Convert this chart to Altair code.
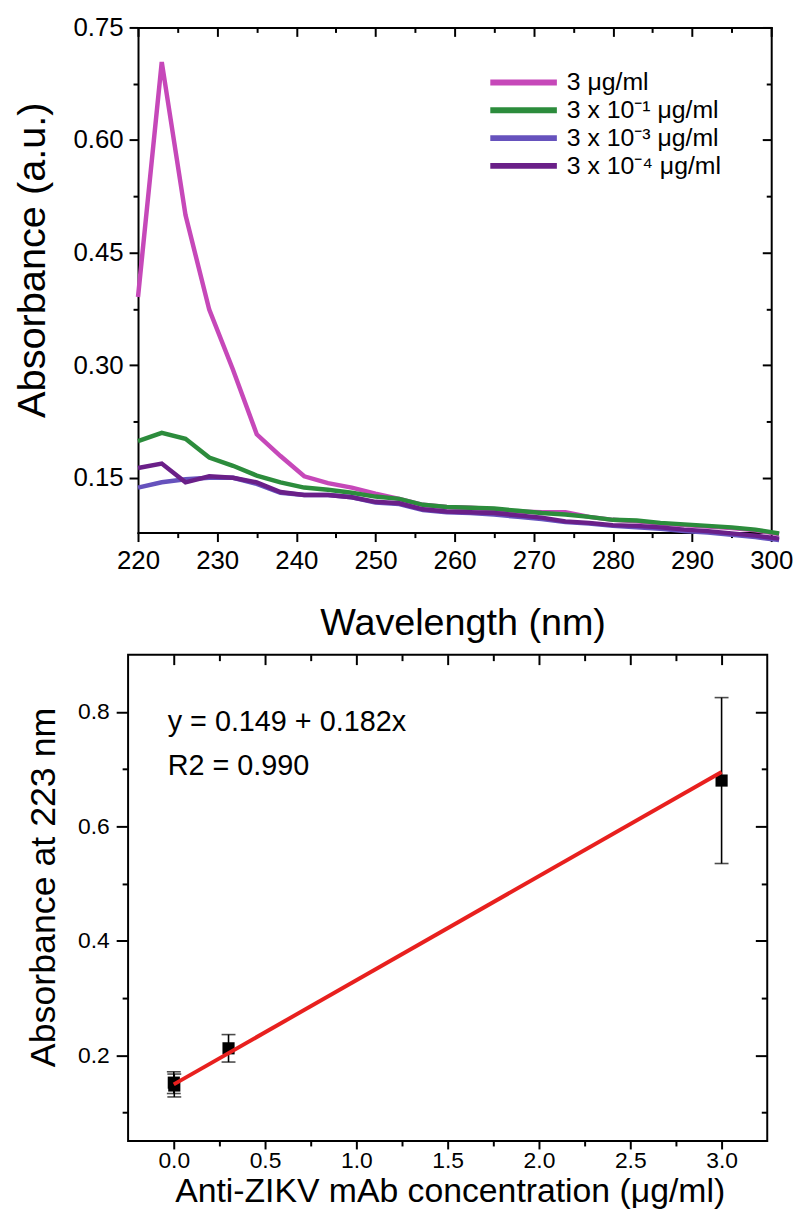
import altair as alt
import pandas as pd

FONT = "Liberation Sans"

# ---------------- top panel data (UV spectra) ----------------
wavelength = [220, 223, 226, 229, 232, 235, 238, 241, 244, 247, 250, 253, 256, 259,
              262, 265, 268, 271, 274, 277, 280, 283, 286, 289, 292, 295, 298, 301]
abs_3 = [0.391, 0.704, 0.500, 0.374, 0.294, 0.208, 0.179, 0.152, 0.143, 0.137, 0.129, 0.122, 0.114, 0.111,
         0.110, 0.108, 0.105, 0.104, 0.104, 0.098, 0.094, 0.092, 0.089, 0.087, 0.085, 0.083, 0.080, 0.075]
abs_3e1 = [0.199, 0.210, 0.202, 0.177, 0.166, 0.153, 0.144, 0.137, 0.134, 0.130, 0.125, 0.122, 0.114, 0.111,
           0.110, 0.109, 0.106, 0.103, 0.101, 0.098, 0.094, 0.093, 0.090, 0.088, 0.086, 0.084, 0.081, 0.076]
abs_3e3 = [0.137, 0.144, 0.148, 0.150, 0.150, 0.142, 0.130, 0.127, 0.127, 0.124, 0.117, 0.115, 0.107, 0.104,
           0.103, 0.101, 0.098, 0.095, 0.091, 0.089, 0.086, 0.084, 0.082, 0.079, 0.077, 0.074, 0.071, 0.067]
abs_3e4 = [0.163, 0.169, 0.144, 0.152, 0.150, 0.144, 0.131, 0.127, 0.127, 0.124, 0.118, 0.116, 0.108, 0.105,
           0.104, 0.103, 0.100, 0.097, 0.092, 0.090, 0.087, 0.086, 0.084, 0.081, 0.079, 0.076, 0.073, 0.069]
series_labels = ["3 μg/ml", "3 x 10⁻¹ μg/ml", "3 x 10⁻³ μg/ml", "3 x 10⁻⁴ μg/ml"]
series_colors = ["#c648b9", "#2c8c3c", "#6652bd", "#6a1f88"]

x1_major = [220, 230, 240, 250, 260, 270, 280, 290, 300]
x1_minor = [225, 235, 245, 255, 265, 275, 285, 295]
y1_major = [0.15, 0.30, 0.45, 0.60, 0.75]
y1_minor = [0.225, 0.375, 0.525, 0.675]

# ---------------- bottom panel data (calibration) ----------------
conc = [0.0003, 0.003, 0.3, 3.0]
abs223 = [0.152, 0.147, 0.212, 0.680]
abs223_err = [0.019, 0.020, 0.024, 0.145]
fit_x = [0.0, 3.0]
fit_y = [0.149, 0.695]
annot_text = ["y = 0.149 + 0.182x", "R2 = 0.990"]
annot_x = [-0.033, -0.033]
annot_y = [0.783, 0.705]

x2_major = [0.0, 0.5, 1.0, 1.5, 2.0, 2.5, 3.0]
x2_minor = [0.25, 0.75, 1.25, 1.75, 2.25, 2.75]
y2_major = [0.2, 0.4, 0.6, 0.8]
y2_minor = [0.1, 0.3, 0.5, 0.7]

# ---------------- tables ----------------
rows = []
for lab, vals in zip(series_labels, [abs_3, abs_3e1, abs_3e3, abs_3e4]):
    for w, v in zip(wavelength, vals):
        rows.append({"wl": w, "abs": v, "series": lab})
spec = pd.DataFrame(rows)

pts = pd.DataFrame({"conc": conc, "abs": abs223,
                    "lo": [a - e for a, e in zip(abs223, abs223_err)],
                    "hi": [a + e for a, e in zip(abs223, abs223_err)]})
fit = pd.DataFrame({"conc": fit_x, "abs": fit_y})
annot = pd.DataFrame({"conc": annot_x, "abs": annot_y, "t": annot_text})

# ---------------- layout constants ----------------
W1, H1, X1L = 648, 509, 10
W2, H2 = 644, 490

AX = dict(grid=False, labelFont=FONT, titleFont=FONT, tickColor="black", domainColor="black",
          labelColor="black", titleColor="black", tickWidth=2, domainWidth=2, domainCap="square",
          labelFlush=False, labelOverlap=False, titleFontWeight="normal")


def axis(**kw):
    d = dict(AX)
    d.update(kw)
    return alt.Axis(**d)


def blank(values, size, orient, offset=0, domain=False, **kw):
    return axis(values=values, tickSize=size, labels=False, domain=domain, title=None,
                orient=orient, offset=offset, **kw)


# ---------------- top panel ----------------
xs1 = alt.Scale(domain=[220, 300], range=[X1L, W1], nice=False, zero=False)
ys1 = alt.Scale(domain=[0.077, 0.75], nice=False, zero=False)

lines = alt.Chart(spec).mark_line(strokeWidth=4.5).encode(
    x=alt.X("wl:Q", scale=xs1, axis=None),
    y=alt.Y("abs:Q", scale=ys1, axis=None),
    color=alt.Color("series:N", scale=alt.Scale(domain=series_labels, range=series_colors),
                    legend=alt.Legend(title=None, orient="none", legendX=384, legendY=41,
                                      symbolType="M-3,0H3", symbolSize=500, symbolStrokeWidth=6,
                                      labelFontSize=25, labelFont=FONT, labelColor="black",
                                      labelOffset=29, rowPadding=0, padding=0)),
)


def top_axes(xa, ya):
    return alt.Chart(spec).mark_point(opacity=0, size=1).encode(
        x=alt.X("wl:Q", scale=xs1, axis=xa),
        y=alt.Y("abs:Q", scale=ys1, axis=ya),
    )


ax_main1 = top_axes(
    axis(values=x1_major, orient="bottom", tickSize=9, labelFontSize=26, labelPadding=6,
         title="Wavelength (nm)", titleFontSize=38, titleX=337, titleY=103,
         titleBaseline="alphabetic", titleAlign="center", domain=True),
    axis(values=y1_major, orient="left", offset=-X1L, tickSize=9, format=".2f", labelFontSize=26,
         labelPadding=6, title="Absorbance (a.u.)", titleFontSize=40, titleAngle=270,
         titleX=-94, titleY=234, titleBaseline="alphabetic", titleAlign="center", domain=True),
)
ax_minor1 = top_axes(blank(x1_minor, 5, "bottom"), blank(y1_minor, 5, "left", offset=-X1L))
ax_opp1 = top_axes(blank(x1_major, 9, "bottom", offset=-H1, domain=True),
                   blank(y1_major, 9, "left", offset=-W1, domain=True))
ax_oppm1 = top_axes(blank(x1_minor, 5, "bottom", offset=-H1),
                    blank(y1_minor, 5, "left", offset=-W1))

top = alt.layer(ax_main1, ax_minor1, ax_opp1, ax_oppm1, lines).resolve_axis(
    x="independent", y="independent"
).properties(width=W1, height=H1, view=alt.ViewBackground(stroke="transparent"))

# ---------------- bottom panel ----------------
xs2 = alt.Scale(domain=[-0.25, 3.25], nice=False, zero=False)
ys2 = alt.Scale(domain=[0.05, 0.9], nice=False, zero=False)


def bot_axes(xa, ya):
    return alt.Chart(pts).mark_point(opacity=0, size=1).encode(
        x=alt.X("conc:Q", scale=xs2, axis=xa),
        y=alt.Y("abs:Q", scale=ys2, axis=ya),
    )


ax_main2 = bot_axes(
    axis(values=x2_major, orient="bottom", tickSize=8, format=".1f", labelFontSize=23, labelPadding=1,
         title="Anti-ZIKV mAb concentration (μg/ml)", titleFontSize=34, titleX=324, titleY=61,
         titleBaseline="alphabetic", titleAlign="center", domain=False),
    axis(values=y2_major, orient="left", tickSize=12, format=".1f", labelFontSize=23, labelPadding=7,
         title="Absorbance at 223 nm", titleFontSize=36, titleAngle=270, titleX=-74, titleY=234,
         titleBaseline="alphabetic", titleAlign="center", domain=False),
)
ax_minor2 = bot_axes(blank(x2_minor, 5, "bottom"), blank(y2_minor, 6, "left"))
ax_opp2 = bot_axes(blank(x2_major, 10, "bottom", offset=-H2), blank(y2_major, 12, "left", offset=-W2))
ax_oppm2 = bot_axes(blank(x2_minor, 6, "bottom", offset=-H2), blank(y2_minor, 6, "left", offset=-W2))

err_rule = alt.Chart(pts).mark_rule(color="black", strokeWidth=1.6).encode(
    x=alt.X("conc:Q", scale=xs2, axis=None),
    y=alt.Y("lo:Q", scale=ys2, axis=None),
    y2="hi:Q",
)
cap_lo = alt.Chart(pts).mark_tick(orient="horizontal", size=14, thickness=1.6, color="black").encode(
    x=alt.X("conc:Q", scale=xs2, axis=None),
    y=alt.Y("lo:Q", scale=ys2, axis=None),
)
cap_hi = alt.Chart(pts).mark_tick(orient="horizontal", size=14, thickness=1.6, color="black").encode(
    x=alt.X("conc:Q", scale=xs2, axis=None),
    y=alt.Y("hi:Q", scale=ys2, axis=None),
)
squares = alt.Chart(pts).mark_square(size=150, color="black", opacity=1).encode(
    x=alt.X("conc:Q", scale=xs2, axis=None),
    y=alt.Y("abs:Q", scale=ys2, axis=None),
)
fit_line = alt.Chart(fit).mark_line(color="#e8201e", strokeWidth=4).encode(
    x=alt.X("conc:Q", scale=xs2, axis=None),
    y=alt.Y("abs:Q", scale=ys2, axis=None),
)
annot_txt = alt.Chart(annot).mark_text(align="left", baseline="middle", fontSize=29, font=FONT,
                                       color="black").encode(
    x=alt.X("conc:Q", scale=xs2, axis=None),
    y=alt.Y("abs:Q", scale=ys2, axis=None),
    text="t:N",
)

bottom = alt.layer(ax_main2, ax_minor2, ax_opp2, ax_oppm2, err_rule, cap_lo, cap_hi, squares,
                   fit_line, annot_txt).resolve_axis(
    x="independent", y="independent"
).properties(width=W2, height=H2, view=alt.ViewBackground(stroke="black", strokeWidth=2))

chart = alt.vconcat(top, bottom, spacing=9).properties(
    padding={"left": 4, "top": 1, "right": 5, "bottom": 5}
).configure(font=FONT)

chart.save("out.html", embed_options={"renderer": "svg", "actions": False})
